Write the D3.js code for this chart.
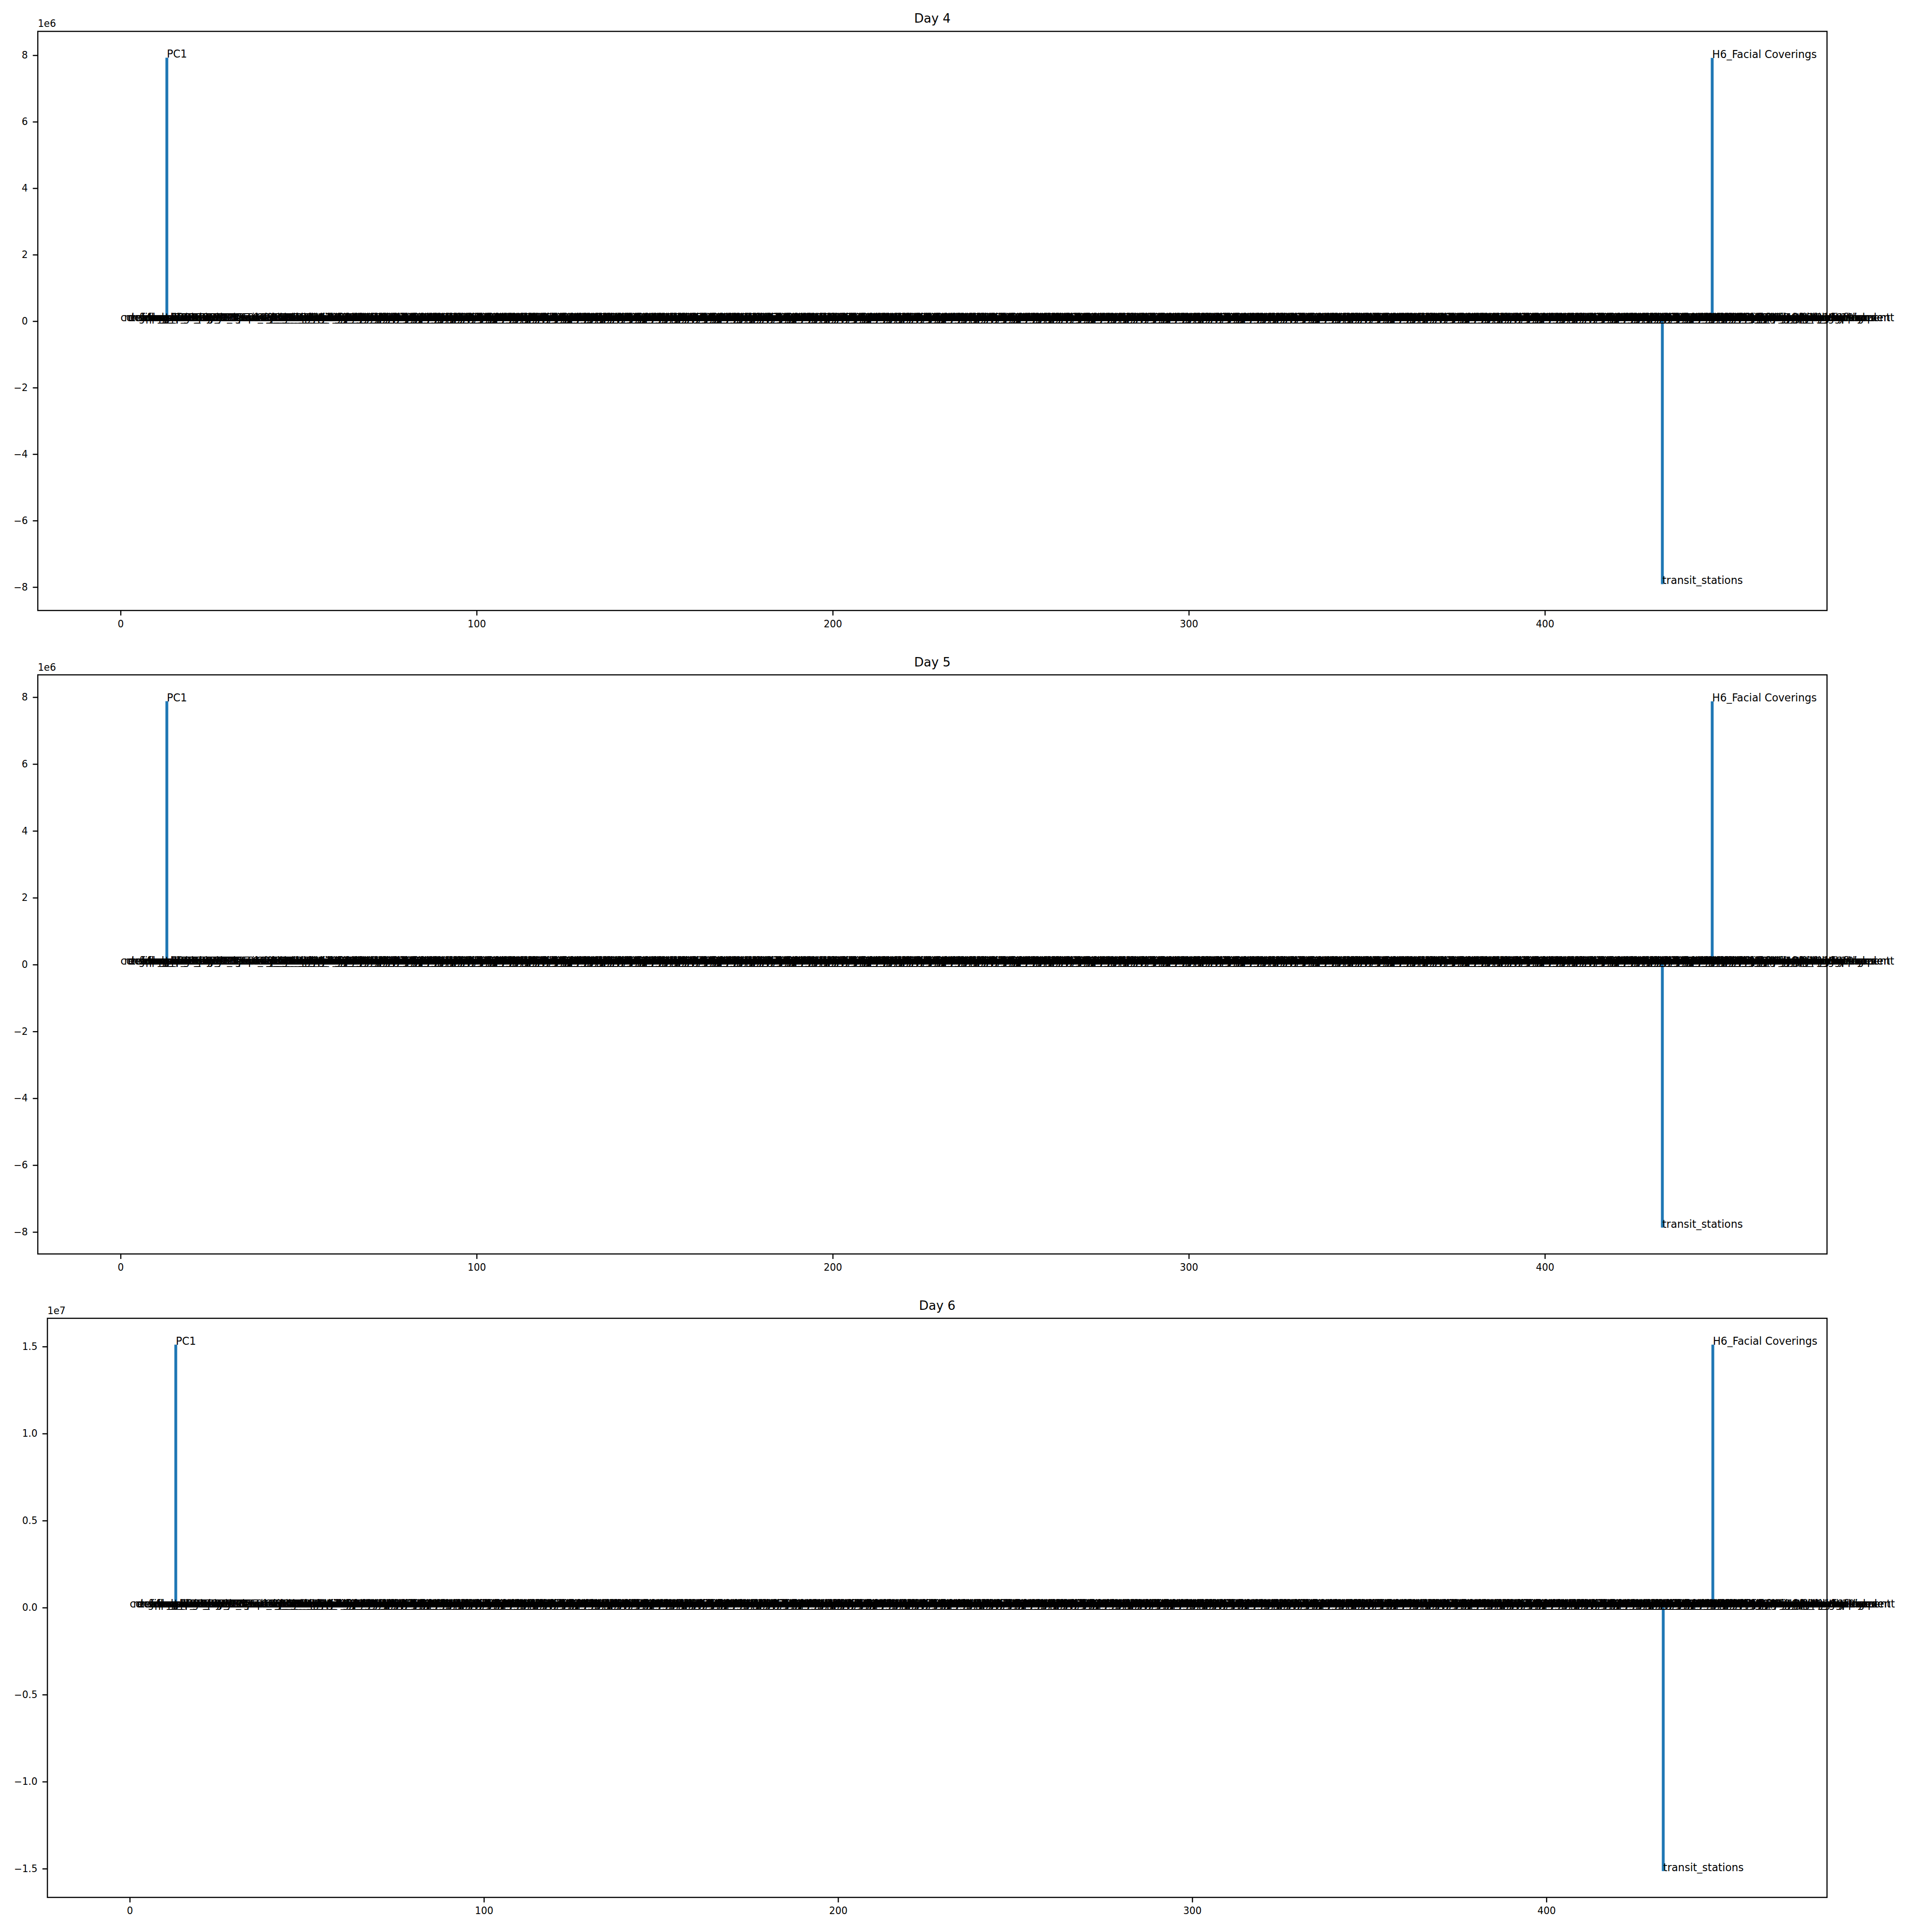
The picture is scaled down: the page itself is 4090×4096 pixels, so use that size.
<!DOCTYPE html>
<html>
<head>
<meta charset="utf-8">
<script src="https://cdn.jsdelivr.net/npm/d3@7/dist/d3.min.js"></script>
<style>
  html, body { margin: 0; padding: 0; background: #ffffff; }
  svg { display: block; }
</style>
</head>
<body>
<svg id="chart"></svg>
<script>
// ---------------- data ----------------
const dayTitles = ["Day 4", "Day 5", "Day 6"];

const baseFeatures = ["confirmed", "recovered", "deaths", "testing_rate", "elderly_pct",
  "gdp_per_capita", "life_expectancy", "population", "pop_density", "hospital_beds",
  "median_age", "stringency_index", "government_response"];

const pcFeatures = ["PC1", "PC2", "PC3", "PC4", "PC5", "PC6", "PC7", "PC8", "PC9",
  "PC10", "PC11", "PC12", "PC13", "PC14", "PC15", "PC16", "PC17", "PC18"];

const mobilityFeatures = ["retail_and_recreation", "grocery_and_pharmacy", "parks",
  "transit_stations", "workplaces", "residential"];

const policyFeatures = ["C1_School closing", "C2_Workplace closing", "C3_Cancel public events",
  "C4_Restrictions on gatherings", "C5_Close public transport", "C6_Stay at home requirements",
  "C7_Restrictions on internal movement", "C8_International travel controls",
  "H1_Public information campaigns", "H2_Testing policy", "H3_Contact tracing",
  "H6_Facial Coverings", "H7_Vaccination policy", "H8_Protection of elderly people"];

const lagSuffixes = ["_lag1", "_lag2", "_lag3", "_lag4", "_lag5", "_lag6", "_lag7", "_lag8",
  "_lag9", "_lag10", "_lag11", "_lag12", "_lag13", "_lag14", "_lag15", "_lag16", "_lag17",
  "_lag18", "_lag19"];

const economicFeatures = ["E1_Income support", "E2_Debt/contract relief"];
const indexFeatures = ["StringencyIndex", "GovernmentResponseIndex", "ContainmentHealthIndex",
  "EconomicSupportIndex", "pct_change_in_employment"];

// feature (category) names, one per bar
const lagVars = mobilityFeatures.concat(policyFeatures, ["new_cases"]);
const features = baseFeatures
  .concat(pcFeatures)
  .concat(lagSuffixes.flatMap(s => lagVars.map(v => v + s)))
  .concat(mobilityFeatures, policyFeatures, economicFeatures, indexFeatures);

// the only coefficients distinguishable from zero at this scale
const peakFeatures = ["PC1", "H6_Facial Coverings", "transit_stations"];
const day4Peaks = [7.926e6, 7.920e6, -7.913e6];
const day5Peaks = [7.880e6, 7.875e6, -7.870e6];
const day6Peaks = [1.511e7, 1.511e7, -1.514e7];
const dayPeaks = [day4Peaks, day5Peaks, day6Peaks];

const xTicks = [0, 100, 200, 300, 400];
const xTickLabels = ["0", "100", "200", "300", "400"];
const yTicksE6 = [-8e6, -6e6, -4e6, -2e6, 0, 2e6, 4e6, 6e6, 8e6];
const yTickLabelsE6 = ["\u22128", "\u22126", "\u22124", "\u22122", "0", "2", "4", "6", "8"];
const yTicksE7 = [-1.5e7, -1.0e7, -0.5e7, 0, 0.5e7, 1.0e7, 1.5e7];
const yTickLabelsE7 = ["\u22121.5", "\u22121.0", "\u22120.5", "0.0", "0.5", "1.0", "1.5"];
const dayYTicks = [yTicksE6, yTicksE6, yTicksE7];
const dayYTickLabels = [yTickLabelsE6, yTickLabelsE6, yTickLabelsE7];
const offsetLabels = ["1e6", "1e6", "1e7"];

// ---------------- layout ----------------
const W = 4090, H = 4096, S = 0.756;
const FONT = "DejaVu Sans, Liberation Sans, sans-serif";
const panelLeft = [106, 106, 133];
const panelTop = [88, 1892.5, 3697];
const panelRight = 5124;
const panelH = 1624;

const svg = d3.select("#chart").attr("width", W).attr("height", H)
  .attr("viewBox", `0 0 ${W} ${H}`);
svg.append("rect").attr("width", W).attr("height", H).attr("fill", "#ffffff");

function padded(lo, hi) {
  const m = (hi - lo) * 0.05;
  return [lo - m, hi + m];
}

dayTitles.forEach((title, p) => {
  const coef = features.map(f => {
    const k = peakFeatures.indexOf(f);
    return k >= 0 ? dayPeaks[p][k] : 0;
  });
  const data = features.map((f, i) => ({ i, name: f, v: coef[i] }));

  const L = panelLeft[p] * S, R = panelRight * S;
  const T = panelTop[p] * S, B = (panelTop[p] + panelH) * S;

  const x = d3.scaleLinear()
    .domain(padded(-0.4, features.length - 1 + 0.4))
    .range([L, R]);
  const ext = d3.extent(coef);
  const y = d3.scaleLinear()
    .domain(padded(Math.min(0, ext[0]), Math.max(0, ext[1])))
    .range([B, T]);

  const g = svg.append("g").attr("class", "panel");

  // bars
  g.append("g").selectAll("rect").data(data.filter(d => d.v !== 0)).join("rect")
    .attr("x", d => x(d.i - 0.4))
    .attr("width", d => x(d.i + 0.4) - x(d.i - 0.4))
    .attr("y", d => y(Math.max(0, d.v)))
    .attr("height", d => Math.abs(y(d.v) - y(0)))
    .attr("fill", "#1f77b4");

  // axes
  const tickLen = 14 * S, tickPad = 14 * S;
  const yAxis = d3.axisLeft(y)
    .tickValues(dayYTicks[p])
    .tickFormat((d, k) => dayYTickLabels[p][k])
    .tickSize(tickLen).tickPadding(tickPad);
  const xAxis = d3.axisBottom(x)
    .tickValues(xTicks)
    .tickFormat((d, k) => xTickLabels[k])
    .tickSize(tickLen).tickPadding(tickPad);

  const ya = g.append("g").attr("transform", `translate(${L},0)`).call(yAxis);
  const xa = g.append("g").attr("transform", `translate(0,${B})`).call(xAxis);
  [ya, xa].forEach(a => {
    a.select(".domain").remove();
    a.selectAll(".tick line").attr("stroke", "#000").attr("stroke-width", 3.2 * S);
    a.selectAll(".tick text").attr("fill", "#000")
      .style("font-family", FONT).style("font-size", (27 * S) + "px");
  });

  // frame (spines)
  g.append("rect")
    .attr("x", L).attr("y", T).attr("width", R - L).attr("height", B - T)
    .attr("fill", "none").attr("stroke", "#000").attr("stroke-width", 3.2 * S);

  // feature labels at each bar end
  g.append("g").selectAll("text").data(data).join("text")
    .attr("x", d => x(d.i))
    .attr("y", d => y(d.v))
    .attr("text-anchor", "start")
    .style("font-family", FONT)
    .style("font-size", (29.3 * S) + "px")
    .attr("fill", "#000")
    .text(d => d.name);

  // offset text
  g.append("text")
    .attr("x", L).attr("y", T - 12 * S)
    .style("font-family", FONT).style("font-size", (27 * S) + "px")
    .attr("fill", "#000")
    .text(offsetLabels[p]);

  // title
  g.append("text")
    .attr("x", (L + R) / 2).attr("y", T - 24 * S)
    .attr("text-anchor", "middle")
    .style("font-family", FONT).style("font-size", (35 * S) + "px")
    .attr("fill", "#000")
    .text(title);
});
</script>
</body>
</html>
